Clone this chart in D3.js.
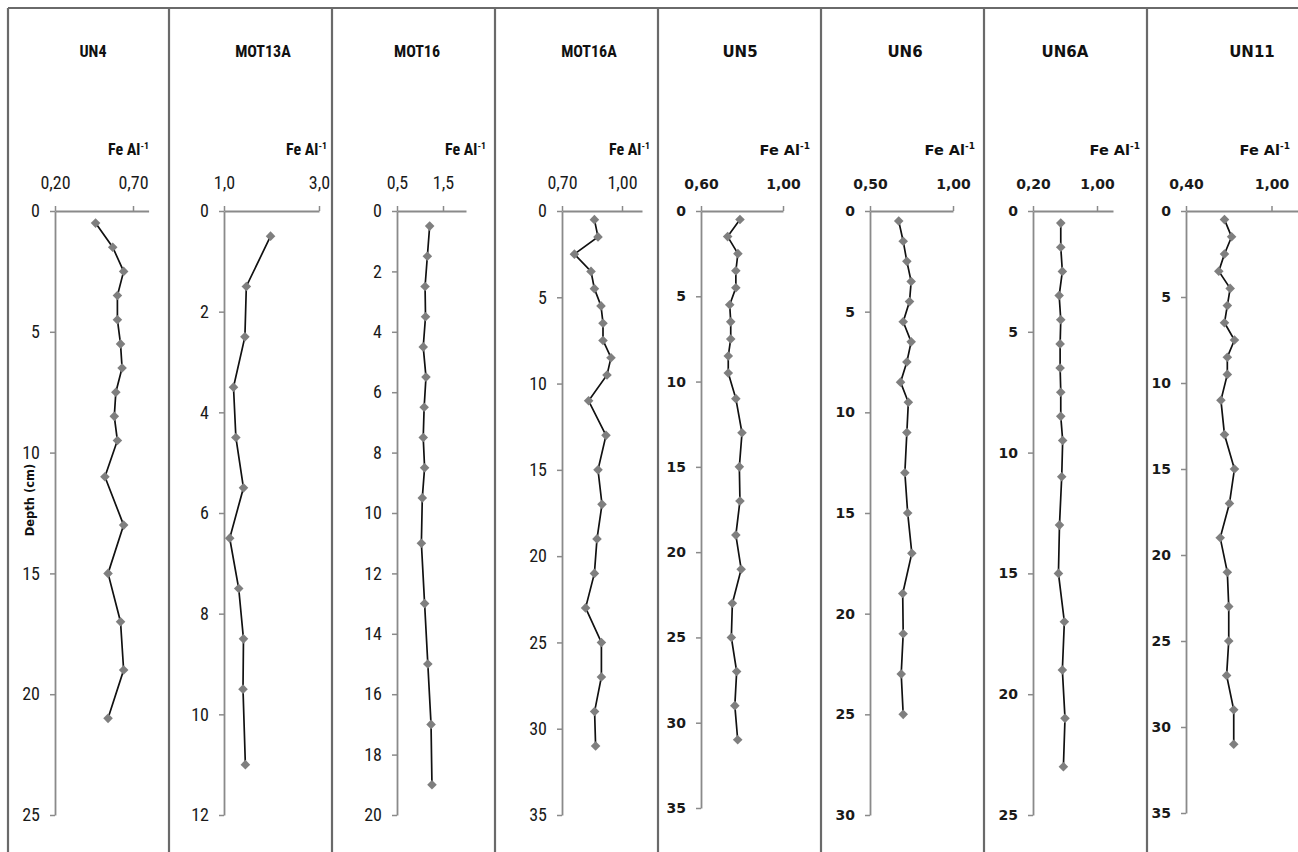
<!DOCTYPE html>
<html><head><meta charset="utf-8">
<script src="https://cdn.jsdelivr.net/npm/d3@7"></script>
<style>body{margin:0;background:#fff}svg{display:block}</style>
</head><body>
<svg id="c" width="1298" height="852"></svg>
<script>
// ---------- DATA ----------
const sites = ["UN4","MOT13A","MOT16","MOT16A","UN5","UN6","UN6A","UN11"];
const axisUnit = "Fe Al";
const depthLabel = "Depth (cm)";

const un4Depth = [0.5,1.5,2.5,3.5,4.5,5.5,6.5,7.5,8.5,9.5,11,13,15,17,19,21];
const un4Fe    = [0.46,0.57,0.64,0.60,0.60,0.62,0.63,0.59,0.58,0.60,0.52,0.64,0.54,0.62,0.64,0.54];

const mot13aDepth = [0.5,1.5,2.5,3.5,4.5,5.5,6.5,7.5,8.5,9.5,11];
const mot13aFe    = [1.98,1.47,1.44,1.20,1.25,1.41,1.12,1.31,1.41,1.40,1.45];

const mot16Depth = [0.5,1.5,2.5,3.5,4.5,5.5,6.5,7.5,8.5,9.5,11,13,15,17,19];
const mot16Fe    = [1.21,1.16,1.11,1.12,1.07,1.13,1.09,1.07,1.10,1.05,1.03,1.10,1.17,1.24,1.26];

const mot16aDepth = [0.5,1.5,2.5,3.5,4.5,5.5,6.5,7.5,8.5,9.5,11,13,15,17,19,21,23,25,27,29,31];
const mot16aFe    = [0.862,0.88,0.762,0.845,0.862,0.895,0.905,0.905,0.945,0.925,0.833,0.92,0.88,0.90,0.875,0.862,0.818,0.897,0.897,0.863,0.868];

const un5Depth = [0.5,1.5,2.5,3.5,4.5,5.5,6.5,7.5,8.5,9.5,11,13,15,17,19,21,23,25,27,29,31];
const un5Fe    = [0.79,0.73,0.78,0.77,0.77,0.74,0.745,0.745,0.733,0.733,0.77,0.80,0.787,0.79,0.77,0.796,0.753,0.748,0.774,0.765,0.779];

const un6Depth = [0.5,1.5,2.5,3.5,4.5,5.5,6.5,7.5,8.5,9.5,11,13,15,17,19,21,23,25];
const un6Fe    = [0.673,0.70,0.722,0.748,0.738,0.70,0.748,0.722,0.684,0.731,0.722,0.71,0.727,0.752,0.697,0.70,0.688,0.70];

const un6aDepth = [0.5,1.5,2.5,3.5,4.5,5.5,6.5,7.5,8.5,9.5,11,13,15,17,19,21,23];
const un6aFe    = [0.547,0.547,0.567,0.527,0.547,0.539,0.539,0.547,0.547,0.571,0.559,0.531,0.518,0.592,0.567,0.60,0.58];

const un11Depth = [0.5,1.5,2.5,3.5,4.5,5.5,6.5,7.5,8.5,9.5,11,13,15,17,19,21,23,25,27,29,31];
const un11Fe    = [0.67,0.72,0.67,0.63,0.71,0.69,0.67,0.74,0.69,0.69,0.645,0.67,0.74,0.705,0.64,0.69,0.70,0.70,0.685,0.735,0.735];

const xDomains = [[0.2,0.8],[1,3],[0.5,2.0],[0.7,1.1],[0.6,1.0],[0.5,1.0],[0.2,1.2],[0.4,1.2]];
const xTicks   = [[0.2,0.7],[1,3],[0.5,1.5],[0.7,1.0],[0.6,1.0],[0.5,1.0],[0.2,1.0],[0.4,1.0]];
const xTickLabels = [["0,20","0,70"],["1,0","3,0"],["0,5","1,5"],["0,70","1,00"],["0,60","1,00"],["0,50","1,00"],["0,20","1,00"],["0,40","1,00"]];
const yMax   = [25,12,20,35,35,30,25,35];
const yStep  = [5,2,2,5,5,5,5,5];

// ---------- LAYOUT (pixels) ----------
const dividers = [8,169,332,495,658,821,984,1147];
const layout = [
  {ax0:55,  ax1:148.6, yBot:815, titleX:93,   feRight:149,  font:"n"},
  {ax0:224, ax1:319,   yBot:815, titleX:263,  feRight:327,  font:"n"},
  {ax0:397, ax1:466,   yBot:815, titleX:417,  feRight:486,  font:"n"},
  {ax0:562, ax1:642,   yBot:815, titleX:589,  feRight:650,  font:"n"},
  {ax0:701, ax1:783,   yBot:808, titleX:740,  feRight:810,  font:"w"},
  {ax0:870, ax1:953,   yBot:815, titleX:905,  feRight:975,  font:"w"},
  {ax0:1033,ax1:1113,  yBot:815, titleX:1065, feRight:1140, font:"w"},
  {ax0:1186,ax1:1300,  yBot:813, titleX:1252, feRight:1290, font:"w"}
];
const yTop = 211;
const fonts = {
  n:{fam:"'Liberation Sans Narrow','Arial Narrow','Roboto Condensed',Roboto,sans-serif", title:16, tick:18, fe:16, tw:"normal"},
  w:{fam:"'DejaVu Sans',Verdana,sans-serif", title:15, tick:14, fe:14.5, tw:"bold"}
};

const depthArrays = [un4Depth,mot13aDepth,mot16Depth,mot16aDepth,un5Depth,un6Depth,un6aDepth,un11Depth];
const feArrays    = [un4Fe,mot13aFe,mot16Fe,mot16aFe,un5Fe,un6Fe,un6aFe,un11Fe];

// ---------- DRAW ----------
const svg = d3.select("#c");
const axisColor = "#8a8a8a";
const frameColor = "#6a6a6a";

svg.append("line").attr("x1",8).attr("x2",1298).attr("y1",8).attr("y2",8)
   .attr("stroke",frameColor).attr("stroke-width",2);
dividers.forEach(dx => svg.append("line").attr("x1",dx).attr("x2",dx).attr("y1",8).attr("y2",852)
   .attr("stroke",frameColor).attr("stroke-width",2.2));

sites.forEach((name,i) => {
  const L = layout[i], F = fonts[L.font];
  const x = d3.scaleLinear().domain(xDomains[i]).range([L.ax0, L.ax1]);
  const y = d3.scaleLinear().domain([0, yMax[i]]).range([yTop, L.yBot]);
  const g = svg.append("g");

  g.append("text").attr("x",L.titleX).attr("y",57).attr("text-anchor","middle")
   .attr("font-family",F.fam).attr("font-size",F.title).attr("font-weight","bold").attr("fill","#111")
   .text(name);
  const fe = g.append("text").attr("x",L.feRight).attr("y",155).attr("text-anchor","end")
   .attr("font-family",F.fam).attr("font-size",F.fe).attr("font-weight","bold").attr("fill","#111");
  fe.append("tspan").text(axisUnit);
  fe.append("tspan").attr("font-size",F.fe*0.62).attr("dy",-6).text("-1");

  const yTicks = d3.range(0, yMax[i]+0.001, yStep[i]);
  const ya = g.append("g").attr("transform",`translate(${L.ax0},0)`)
    .call(d3.axisLeft(y).tickValues(yTicks).tickSize(5).tickSizeOuter(0).tickPadding(10).tickFormat(d3.format("d")));
  ya.select(".domain").attr("stroke",axisColor).attr("stroke-width",1.8);
  ya.selectAll(".tick line").attr("stroke",axisColor).attr("stroke-width",1.5);
  ya.selectAll(".tick text").attr("font-family",F.fam).attr("font-size",F.tick).attr("font-weight",F.tw).attr("fill","#1a1a1a");

  const xa = g.append("g").attr("transform",`translate(0,${yTop})`)
    .call(d3.axisTop(x).tickValues(xTicks[i]).tickSize(5).tickSizeOuter(0).tickPadding(17)
      .tickFormat((d,k) => xTickLabels[i][k]));
  xa.select(".domain").attr("stroke",axisColor).attr("stroke-width",1.8);
  xa.selectAll(".tick line").attr("stroke",axisColor).attr("stroke-width",1.5);
  xa.selectAll(".tick text").attr("font-family",F.fam).attr("font-size",F.tick).attr("font-weight",F.tw).attr("fill","#1a1a1a");

  const pts = depthArrays[i].map((d,k) => ({d, v: feArrays[i][k]}));
  g.append("path").datum(pts)
   .attr("d", d3.line().x(p => x(p.v)).y(p => y(p.d)))
   .attr("fill","none").attr("stroke","#111").attr("stroke-width",1.7);
  g.selectAll("path.m").data(pts).join("path").attr("class","m")
   .attr("transform", p => `translate(${x(p.v)},${y(p.d)}) rotate(45)`)
   .attr("d", d3.symbol(d3.symbolSquare, 46)())
   .attr("fill","#7f7f7f");

  if (i === 0) {
    svg.append("text").attr("transform",`translate(34,500) rotate(-90)`).attr("text-anchor","middle")
      .attr("font-family","'DejaVu Sans',Verdana,sans-serif").attr("font-size",11.5).attr("font-weight","bold")
      .attr("fill","#111").text(depthLabel);
  }
});
</script>
</body></html>
